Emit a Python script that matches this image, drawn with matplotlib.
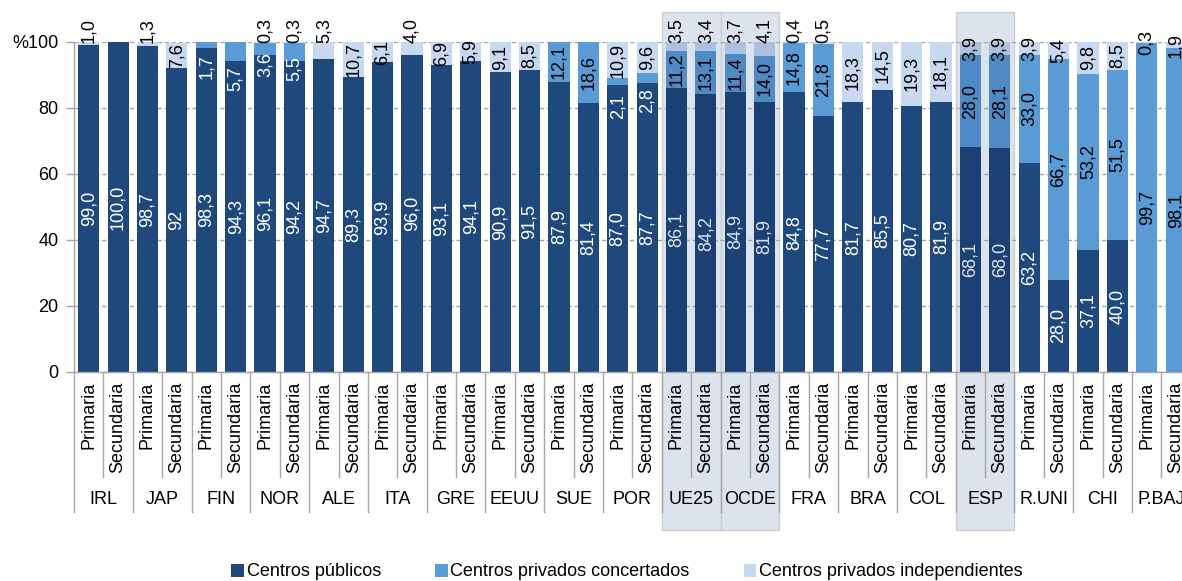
import matplotlib
matplotlib.use("Agg")
import matplotlib.pyplot as plt
from matplotlib.patches import Rectangle, Patch
from matplotlib.colors import to_rgb
from matplotlib.transforms import blended_transform_factory

plt.rcParams['font.family'] = ['Liberation Sans', 'DejaVu Sans']

# ---------------- data ----------------
groups = ["IRL", "JAP", "FIN", "NOR", "ALE", "ITA", "GRE", "EEUU", "SUE", "POR",
          "UE25", "OCDE", "FRA", "BRA", "COL", "ESP", "R.UNI", "CHI", "P.BAJ"]
levels = ["Primaria", "Secundaria"]

publicos = [99.0, 100.0, 98.7, 92, 98.3, 94.3, 96.1, 94.2, 94.7, 89.3,
            93.9, 96.0, 93.1, 94.1, 90.9, 91.5, 87.9, 81.4, 87.0, 87.7,
            86.1, 84.2, 84.9, 81.9, 84.8, 77.7, 81.7, 85.5, 80.7, 81.9,
            68.1, 68.0, 63.2, 28.0, 37.1, 40.0, 0.0, 0.0]
concertados = [0.0, 0.0, 0.0, 0.0, 1.7, 5.7, 3.6, 5.5, 0.0, 0.0,
               0.0, 0.0, 0.0, 0.0, 0.0, 0.0, 12.1, 18.6, 2.1, 2.8,
               11.2, 13.1, 11.4, 14.0, 14.8, 21.8, 0.0, 0.0, 0.0, 0.0,
               28.0, 28.1, 33.0, 66.7, 53.2, 51.5, 99.7, 98.1]
independientes = [1.0, 0.0, 1.3, 7.6, 0.0, 0.0, 0.3, 0.3, 5.3, 10.7,
                  6.1, 4.0, 6.9, 5.9, 9.1, 8.5, 0.0, 0.0, 10.9, 9.6,
                  3.5, 3.4, 3.7, 4.1, 0.4, 0.5, 18.3, 14.5, 19.3, 18.1,
                  3.9, 3.9, 3.9, 5.4, 9.8, 8.5, 0.3, 1.9]

series_names = ["Centros públicos", "Centros privados concertados",
                "Centros privados independientes"]
highlight_groups = ["UE25", "OCDE", "ESP"]

# --------- label placement tweaks (as in the original) ---------
conc_label_moved = {4: 92.4, 5: 88.9, 6: 93.2, 7: 92.0, 18: 80.4, 19: 82.2}
indep_label_above = {0, 2, 6, 7, 8, 11, 20, 21, 22, 23, 24, 25}

# ---------------- styles ----------------
C_PUB = '#1F497D'
C_CON = '#5B9BD5'
C_IND = '#C6D9F1'
C_BOX = '#DCE3EC'
GRID = '#a6a6a6'
FS = 13

n = len(publicos)
hl_bars = set()
for name in highlight_groups:
    g = groups.index(name)
    hl_bars.update({2 * g, 2 * g + 1})


def shade(color, i):
    """Colour as seen through the highlight box (multiply blend)."""
    if i not in hl_bars:
        return color
    a, b = to_rgb(color), to_rgb(C_BOX)
    return tuple(u * v for u, v in zip(a, b))


W, H = 1182, 581
fig = plt.figure(figsize=(W / 100, H / 100), dpi=100)
left_px, bottom_px, top_px = 74, 372, 42
pitch = 29.39
ax = fig.add_axes([left_px / W, (H - bottom_px) / H, (W - left_px) / W,
                   (bottom_px - top_px) / H])

x = list(range(n))
bw = 0.72
bot2 = [p + c for p, c in zip(publicos, concertados)]
ax.bar(x, publicos, width=bw, color=[shade(C_PUB, i) for i in x], zorder=2)
ax.bar(x, concertados, width=bw, bottom=publicos,
       color=[shade(C_CON, i) for i in x], zorder=2)
ax.bar(x, independientes, width=bw, bottom=bot2,
       color=[shade(C_IND, i) for i in x], zorder=2)

ax.set_xlim(-0.5, -0.5 + (W - left_px) / pitch)
ax.set_ylim(0, 100)
ax.set_yticks([0, 20, 40, 60, 80, 100])
ax.set_yticklabels(['0', '20', '40', '60', '80', '%100'], fontsize=FS)
ax.set_xticks([])
ax.tick_params(axis='y', length=6, width=1, color=GRID, pad=5)
ax.yaxis.grid(True, linestyle=(0, (3, 2)), color=GRID, linewidth=1)
ax.set_axisbelow(True)
for s in ['top', 'right']:
    ax.spines[s].set_visible(False)
for s in ['left', 'bottom']:
    ax.spines[s].set_color(GRID)
    ax.spines[s].set_linewidth(1)


def fmt(v):
    if isinstance(v, int):
        return str(v)
    return f"{v:.1f}".replace('.', ',')


for i in x:
    p, c, d = publicos[i], concertados[i], independientes[i]
    white = shade('white', i)
    if p > 0:
        ax.text(i, p / 2, fmt(p), rotation=90, ha='center', va='center',
                color=white, fontsize=FS, zorder=3)
    if c > 0:
        if i in conc_label_moved:
            ax.text(i, conc_label_moved[i], fmt(c), rotation=90, ha='center',
                    va='center', color=white, fontsize=FS, zorder=3)
        else:
            ax.text(i, p + c / 2, fmt(c), rotation=90, ha='center',
                    va='center', color='black', fontsize=FS, zorder=3)
    if d > 0:
        if i in indep_label_above:
            ax.text(i, 99.8, fmt(d), rotation=90, ha='center', va='bottom',
                    color='black', fontsize=FS, zorder=3, clip_on=False)
        else:
            ax.text(i, p + c + d / 2, fmt(d), rotation=90, ha='center',
                    va='center', color='black', fontsize=FS, zorder=3,
                    clip_on=False)

# category axis (two levels)
tr = blended_transform_factory(ax.transData, fig.transFigure)


def fy(px):
    return 1 - px / H


for i in x:
    ax.text(i, fy(382), levels[i % 2], transform=tr, rotation=90,
            ha='center', va='top', fontsize=FS, clip_on=False)
for g, name in enumerate(groups):
    ax.text(2 * g + 0.5, fy(500), name, transform=tr, ha='center',
            va='center', fontsize=FS, clip_on=False)
for b in range(n + 1):
    yb = 512 if b % 2 == 0 else 477
    ax.plot([b - 0.5, b - 0.5], [fy(bottom_px), fy(yb)], transform=tr,
            color=GRID, lw=1, clip_on=False, zorder=1)

# highlight boxes (behind the bars; bars inside are shaded as if multiplied)
for name in highlight_groups:
    g = groups.index(name)
    rect = Rectangle((2 * g - 0.5, fy(530)), 2.0, fy(12) - fy(530),
                     transform=tr, facecolor=C_BOX,
                     edgecolor='#c9cfd7', lw=1, zorder=0.3, clip_on=False)
    ax.add_patch(rect)

handles = [Patch(facecolor=C_PUB), Patch(facecolor=C_CON), Patch(facecolor=C_IND)]
fig.legend(handles, series_names, loc='center', ncol=3,
           bbox_to_anchor=(627 / W, fy(572)), frameon=False, fontsize=FS,
           handlelength=0.7, handleheight=0.7, handletextpad=0.15,
           columnspacing=3.0, borderaxespad=0)

fig.savefig('out.png', dpi=100)
